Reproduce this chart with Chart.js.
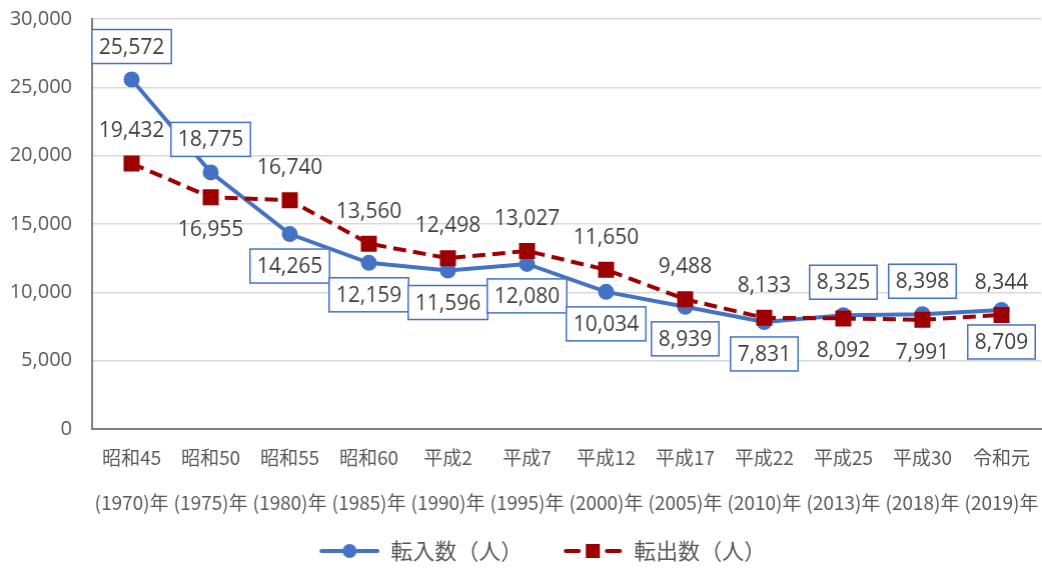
<!DOCTYPE html>
<html>
<head>
<meta charset="utf-8">
<script src="https://cdn.jsdelivr.net/npm/chart.js@4/dist/chart.umd.min.js"></script>
<style>
  html, body { margin: 0; padding: 0; background: #fff; overflow: hidden; }
  #wrap { width: 1042px; height: 569px; }
</style>
</head>
<body>
<div id="wrap"><canvas id="moveChart"></canvas></div>
<script>
// data
const eraLabels = ["昭和45", "昭和50", "昭和55", "昭和60", "平成2", "平成7", "平成12", "平成17", "平成22", "平成25", "平成30", "令和元"];
const yearLabels = ["(1970)年", "(1975)年", "(1980)年", "(1985)年", "(1990)年", "(1995)年", "(2000)年", "(2005)年", "(2010)年", "(2013)年", "(2018)年", "(2019)年"];
const moveIn = [25572, 18775, 14265, 12159, 11596, 12080, 10034, 8939, 7831, 8325, 8398, 8709];
const moveOut = [19432, 16955, 16740, 13560, 12498, 13027, 11650, 9488, 8133, 8092, 7991, 8344];
const yTicks = [0, 5000, 10000, 15000, 20000, 25000, 30000];

// where each value label sits: "a" above the point, "b" below
const inLabelPos = ["a", "a", "b", "b", "b", "b", "b", "b", "b", "a", "a", "b"];
const outLabelPos = ["a", "b", "a", "a", "a", "a", "a", "a", "a", "b", "b", "a"];

const BLUE = "#4472C4";
const RED = "#9C0000";
const FONT = "'Segoe UI', 'Open Sans', 'Noto Sans CJK JP', sans-serif";
const JP_FONT = "'Noto Sans CJK JP', 'Open Sans', sans-serif";

function fmt(v) {
    return v.toLocaleString("en-US");
}

// legend markers: line with a point in the middle (left 32px kept blank as gap)
function legendIcon(color, dashed) {
    const c = document.createElement("canvas");
    c.width = 92;
    c.height = 18;
    const g = c.getContext("2d");
    g.strokeStyle = color;
    g.fillStyle = color;
    g.lineWidth = 4;
    g.lineCap = "round";
    const o = 32;
    if (dashed) {
        g.beginPath(); g.moveTo(o + 3, 9); g.lineTo(o + 16, 9); g.stroke();
        g.beginPath(); g.moveTo(o + 44, 9); g.lineTo(o + 57, 9); g.stroke();
        g.fillRect(o + 23, 2, 14, 14);
    } else {
        g.beginPath(); g.moveTo(o + 2, 9); g.lineTo(o + 58, 9); g.stroke();
        g.beginPath(); g.arc(o + 30, 9, 7, 0, Math.PI * 2); g.fill();
    }
    return c;
}
const icons = [legendIcon(BLUE, false), legendIcon(RED, true)];

// value labels, blue ones in a box
const valueLabels = {
    id: "valueLabels",
    afterDatasetsDraw(chart) {
        const ctx = chart.ctx;
        ctx.save();
        ctx.font = "21px " + FONT;
        ctx.textAlign = "center";
        ctx.textBaseline = "middle";
        chart.data.datasets.forEach((ds, di) => {
            const meta = chart.getDatasetMeta(di);
            const pos = di === 0 ? inLabelPos : outLabelPos;
            meta.data.forEach((pt, i) => {
                const txt = fmt(ds.data[i]);
                const y = pt.y + (pos[i] === "a" ? -33 : 32);
                const x = pt.x;
                if (di === 0) {
                    const w = ctx.measureText(txt).width + 14;
                    const h = 34;
                    ctx.fillStyle = "#fff";
                    ctx.fillRect(x - w / 2, y - h / 2, w, h);
                    ctx.strokeStyle = BLUE;
                    ctx.lineWidth = 1.5;
                    ctx.strokeRect(x - w / 2, y - h / 2, w, h);
                }
                ctx.fillStyle = "#404040";
                ctx.fillText(txt, x, y + 1);
            });
        });
        ctx.restore();
    }
};

const ctx = document.getElementById("moveChart").getContext("2d");
const moveChart = new Chart(ctx, {
    type: "line",
    data: {
        labels: eraLabels.map((e, i) => [e, yearLabels[i]]),
        datasets: [{
            label: "転入数（人）",
            data: moveIn,
            order: 1,
            borderColor: BLUE,
            backgroundColor: BLUE,
            borderWidth: 4,
            pointStyle: "circle",
            pointRadius: 6,
            pointHoverRadius: 6,
            tension: 0,
            fill: false
        }, {
            label: "転出数（人）",
            data: moveOut,
            order: 0,
            borderColor: RED,
            backgroundColor: RED,
            borderWidth: 4,
            borderDash: [13, 7],
            pointStyle: "rect",
            pointRadius: 8.5,
            pointHoverRadius: 8.5,
            tension: 0,
            fill: false
        }]
    },
    options: {
        responsive: true,
        maintainAspectRatio: false,
        animation: false,
        layout: { padding: { top: 19, right: 0, left: 0, bottom: -3 } },
        scales: {
            x: {
                offset: true,
                grid: { display: false, drawTicks: false },
                border: { color: "#7F7F7F", width: 2 },
                ticks: {
                    autoSkip: false,
                    maxRotation: 0,
                    minRotation: 0,
                    padding: 6,
                    color: "#595959",
                    font: { family: JP_FONT, size: 19, lineHeight: 2.37 }
                },
                afterFit(scale) {
                    scale.height = 103;
                }
            },
            y: {
                min: 0,
                max: 30000,
                afterBuildTicks(scale) {
                    scale.ticks = yTicks.map(v => ({ value: v }));
                },
                grid: { color: "#D9D9D9", lineWidth: 1.5, drawTicks: true, tickLength: 20, tickColor: "rgba(0,0,0,0)" },
                border: { color: "#7F7F7F", width: 2 },
                ticks: {
                    padding: 0,
                    color: "#595959",
                    font: { family: FONT, size: 20 },
                    callback: v => fmt(v)
                },
                afterFit(scale) {
                    scale.width = 92;
                }
            }
        },
        plugins: {
            legend: {
                position: "bottom",
                labels: {
                    usePointStyle: true,
                    pointStyleWidth: 92,
                    padding: 8,
                    color: "#595959",
                    font: { family: JP_FONT, size: 22 },
                    generateLabels(chart) {
                        const items = Chart.defaults.plugins.legend.labels.generateLabels(chart);
                        items.sort((a, b) => a.datasetIndex - b.datasetIndex);
                        items.forEach(it => {
                            it.pointStyle = icons[it.datasetIndex];
                            it.lineWidth = 0;
                        });
                        return items;
                    }
                }
            },
            tooltip: { enabled: false }
        }
    },
    plugins: [valueLabels]
});

// the last x label reserves room on the right; widen the canvas (clipped by the
// window) so the plot area still reaches x=1040 like the original
const gap = 1040 - moveChart.chartArea.right;
if (gap > 0.5 && gap < 40) {
    document.getElementById("wrap").style.width = (1042 + gap) + "px";
    moveChart.resize();
}
</script>
</body>
</html>
